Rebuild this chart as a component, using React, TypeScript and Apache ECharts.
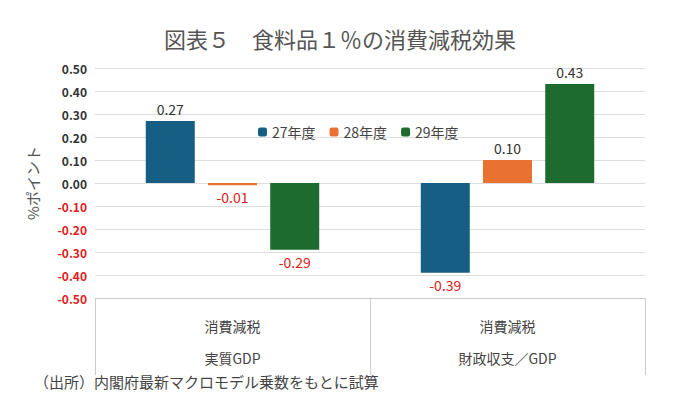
import React, { useEffect, useRef } from 'react';
import * as echarts from 'echarts';

const categories = ['消費減税\n\n実質GDP', '消費減税\n\n財政収支／GDP'];
const fy27 = [0.27, -0.39];
const fy28 = [-0.01, 0.1];
const fy29 = [-0.29, 0.43];
const seriesNames = ['27年度', '28年度', '29年度'];
const colors = ['#165E83', '#E97132', '#1D6B2E'];

const App = () => {
  const chartRef = useRef(null);

  useEffect(() => {
    if (!chartRef.current) return;
    const chart = echarts.init(chartRef.current, null, { renderer: 'svg' });
    const font = '"Noto Sans CJK JP", sans-serif';
    const mk = (name: string, data: number[], color: string) => ({
      name,
      type: 'bar',
      data: data.map((v) => ({
        value: v,
        label: {
          show: true,
          position: v >= 0 ? 'top' : 'bottom',
          color: v >= 0 ? '#333' : '#E02020',
          fontSize: 14,
          fontFamily: font,
          formatter: (p: any) => p.value.toFixed(2),
        },
      })),
      itemStyle: { color },
      barWidth: 49,
      barGap: '27%',
    });
    chart.setOption({
      animation: false,
      textStyle: { fontFamily: font },
      title: {
        text: '図表５　食料品１％の消費減税効果',
        left: 'center',
        top: 14,
        textStyle: { fontSize: 22, fontWeight: 'normal', color: '#555', fontFamily: font },
      },
      legend: {
        data: seriesNames,
        top: 112,
        left: 245,
        itemWidth: 9,
        itemHeight: 9,
        itemGap: 14,
        textStyle: { fontSize: 14, color: '#444' },
      },
      grid: { left: 87, right: 27, top: 60, bottom: 109 },
      xAxis: {
        type: 'category',
        data: categories,
        position: 'bottom',
        axisLine: { onZero: false, lineStyle: { color: '#ccc' } },
        axisTick: { show: true, length: 77, lineStyle: { color: '#ccc' } },
        axisLabel: { fontSize: 14, color: '#444', lineHeight: 16, margin: 20 },
      },
      yAxis: {
        type: 'value',
        min: -0.5,
        max: 0.5,
        interval: 0.1,
        name: '%ポイント',
        nameLocation: 'middle',
        nameGap: 55,
        nameRotate: 90,
        nameTextStyle: { fontSize: 15, color: '#555' },
        axisLabel: {
          fontSize: 12,
          fontWeight: 'bold',
          formatter: (v: number) => v.toFixed(2),
          color: (v: any) => (Number(v) < -1e-9 ? '#E02020' : '#333'),
        },
        splitLine: { lineStyle: { color: '#ddd' } },
      },
      series: [mk(seriesNames[0], fy27, colors[0]), mk(seriesNames[1], fy28, colors[1]), mk(seriesNames[2], fy29, colors[2])],
      graphic: [
        {
          type: 'text',
          left: 26,
          top: 366,
          style: { text: '（出所）内閣府最新マクロモデル乗数をもとに試算', fontSize: 15, fill: '#444', fontFamily: font },
        },
      ],
    });
    return () => chart.dispose();
  }, []);

  return <div ref={chartRef} style={{ width: 664, height: 399 }} />;
};

export default App;
